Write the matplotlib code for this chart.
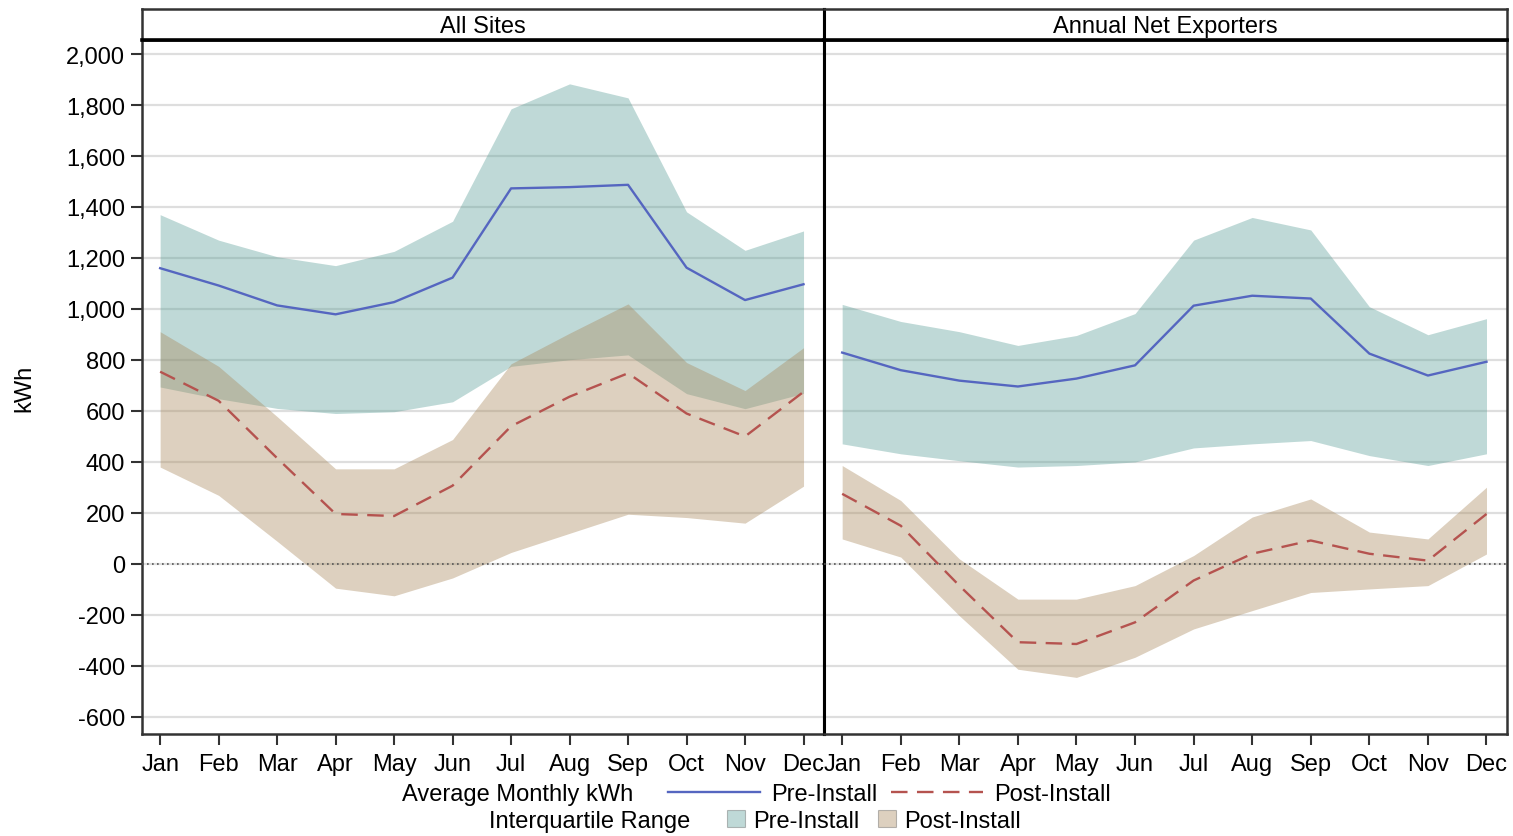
import matplotlib
matplotlib.use("Agg")
import matplotlib.pyplot as plt
from matplotlib.lines import Line2D
from matplotlib.patches import Patch
from matplotlib.ticker import FuncFormatter

plt.rcParams['font.family'] = ['Liberation Sans', 'DejaVu Sans']

months = ["Jan", "Feb", "Mar", "Apr", "May", "Jun", "Jul", "Aug", "Sep", "Oct", "Nov", "Dec"]
panels = ["All Sites", "Annual Net Exporters"]

# All Sites
all_pre_mean = [1160, 1092, 1014, 979, 1027, 1123, 1473, 1478, 1487, 1162, 1035, 1097]
all_pre_q3 = [1370, 1270, 1205, 1170, 1226, 1344, 1785, 1883, 1828, 1381, 1230, 1306]
all_pre_q1 = [694, 648, 610, 590, 597, 636, 775, 801, 820, 668, 609, 669]
all_post_mean = [754, 640, 415, 196, 188, 307, 540, 656, 748, 590, 500, 675]
all_post_q3 = [911, 775, 578, 373, 373, 488, 785, 905, 1020, 790, 680, 848]
all_post_q1 = [380, 269, 89, -95, -125, -55, 45, 120, 195, 182, 160, 305]

# Annual Net Exporters
exp_pre_mean = [829, 760, 719, 696, 727, 779, 1013, 1052, 1041, 825, 739, 793]
exp_pre_q3 = [1018, 951, 911, 857, 896, 982, 1270, 1359, 1310, 1009, 899, 962]
exp_pre_q1 = [471, 432, 405, 380, 386, 400, 455, 471, 484, 425, 386, 432]
exp_post_mean = [275, 150, -85, -307, -314, -229, -65, 40, 92, 40, 13, 196]
exp_post_q3 = [386, 249, 20, -138, -138, -85, 33, 184, 255, 125, 98, 301]
exp_post_q1 = [98, 27, -203, -413, -445, -366, -255, -183, -112, -98, -85, 39]

yticks = list(range(-600, 2001, 200))

data = [
    (all_pre_mean, all_pre_q1, all_pre_q3, all_post_mean, all_post_q1, all_post_q3),
    (exp_pre_mean, exp_pre_q1, exp_pre_q3, exp_post_mean, exp_post_q1, exp_post_q3),
]

TEAL = "#579d96"
TAN = "#a8875a"
BLUE = "#5566c0"
RED = "#b5534f"
FS = 17
W, H = 1513, 837

fig = plt.figure(figsize=(W / 100, H / 100), dpi=100)
x = list(range(1, 13))

lefts = [142, 824]
rights = [824, 1507]
ax_top, ax_bot = 41, 735
hdr_top = 10

for i, (l, r) in enumerate(zip(lefts, rights)):
    ax = fig.add_axes([l / W, 1 - ax_bot / H, (r - l) / W, (ax_bot - ax_top) / H])
    pm, p1, p3, qm, q1, q3 = data[i]
    ax.set_axisbelow(True)
    ax.grid(axis='y', color='#dedede', linewidth=1.6)
    ax.fill_between(x, p1, p3, color=TEAL, alpha=0.38, linewidth=0, zorder=1)
    ax.fill_between(x, q1, q3, color=TAN, alpha=0.39, linewidth=0, zorder=2)
    ax.axhline(0, color='#555555', linestyle=(0, (1, 2)), linewidth=1.2, zorder=3)
    ax.plot(x, pm, color=BLUE, linewidth=1.7, zorder=4)
    ax.plot(x, qm, color=RED, linewidth=1.7, dashes=(7, 4), zorder=4)
    ax.set_xlim(0.69, 12.35)
    ax.set_ylim(-667, 2055)
    ax.set_xticks(x)
    ax.set_xticklabels(months, fontsize=FS)
    ax.set_yticks(yticks)
    ax.yaxis.set_major_formatter(FuncFormatter(lambda v, p: f"{int(v):,}"))
    ax.tick_params(axis='both', direction='out', length=8, width=1.5, color='#333333',
                   labelsize=FS, pad=4)
    ax.tick_params(axis='x', pad=6)
    for s in ax.spines.values():
        s.set_linewidth(1.8)
        s.set_color('#333333')
    if i == 0:
        ax.spines['right'].set_color('black')
        ax.spines['right'].set_linewidth(2.2)
        ax.set_ylabel("kWh", fontsize=FS, labelpad=22)
    else:
        ax.tick_params(axis='y', left=False, labelleft=False)
        ax.spines['left'].set_color('black')
        ax.spines['left'].set_linewidth(2.2)

    hax = fig.add_axes([l / W, 1 - ax_top / H, (r - l) / W, (ax_top - hdr_top) / H])
    hax.set_xticks([])
    hax.set_yticks([])
    for s in hax.spines.values():
        s.set_linewidth(1.8)
        s.set_color('#333333')
    hax.spines['bottom'].set_color('black')
    hax.spines['bottom'].set_linewidth(2.6)
    if i == 0:
        hax.spines['right'].set_color('black')
        hax.spines['right'].set_linewidth(2.2)
    else:
        hax.spines['left'].set_color('black')
        hax.spines['left'].set_linewidth(2.2)
    hax.text(0.5, 0.45, panels[i], ha='center', va='center', fontsize=FS, transform=hax.transAxes)

# Legend row 1
y1 = 1 - 795 / H
fig.text(633 / W, y1, "Average Monthly kWh", ha='right', va='center', fontsize=FS)
h1 = [Line2D([], [], color=BLUE, linewidth=1.7),
      Line2D([], [], color=RED, linewidth=1.7, dashes=(7, 4))]
fig.legend(h1, ["Pre-Install", "Post-Install"], loc='center left', bbox_to_anchor=(668 / W, y1),
           ncol=2, frameon=False, fontsize=FS, handlelength=3.9, handletextpad=0.45,
           columnspacing=0.6, borderpad=0, borderaxespad=0)

# Legend row 2
y2 = 1 - 822 / H
fig.text(690 / W, y2, "Interquartile Range", ha='right', va='center', fontsize=FS)
h2 = [Patch(facecolor=TEAL, alpha=0.38, edgecolor='#555555', linewidth=0.8),
      Patch(facecolor=TAN, alpha=0.39, edgecolor='#555555', linewidth=0.8)]
fig.legend(h2, ["Pre-Install", "Post-Install"], loc='center left', bbox_to_anchor=(727 / W, y2),
           ncol=2, frameon=False, fontsize=FS, handlelength=0.75, handleheight=0.75,
           handletextpad=0.35, columnspacing=0.8, borderpad=0, borderaxespad=0)

fig.savefig("out.png", dpi=100)
